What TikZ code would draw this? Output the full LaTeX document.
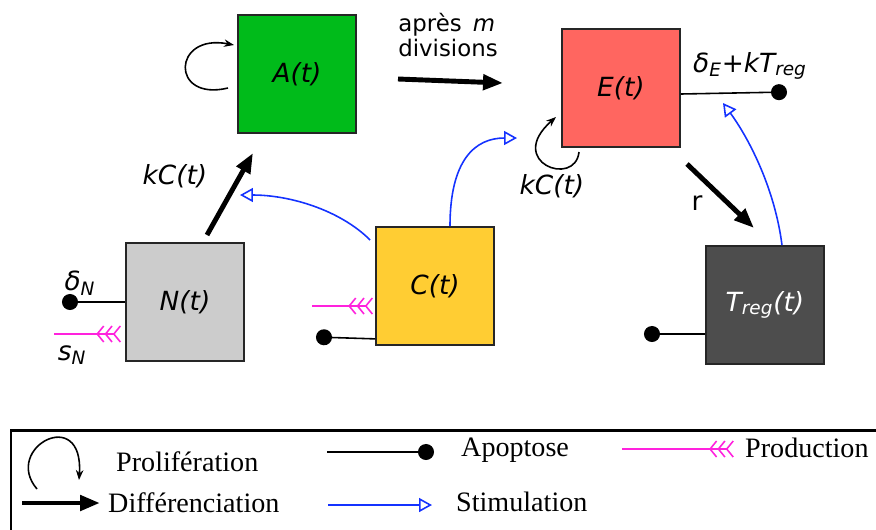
\documentclass[tikz,border=0pt]{standalone}
\usepackage{fontspec}
\setmainfont{Liberation Serif}
\setsansfont{DejaVu Sans}
\usetikzlibrary{arrows.meta}

\definecolor{agreen}{RGB}{0,187,26}
\definecolor{ered}{RGB}{255,102,96}
\definecolor{ngray}{RGB}{204,204,204}
\definecolor{cyellow}{RGB}{255,205,51}
\definecolor{tdark}{RGB}{77,77,77}
\definecolor{stimblue}{RGB}{20,50,255}
\definecolor{prodpink}{RGB}{255,34,221}

\begin{document}
\begin{tikzpicture}[x=0.02cm,y=-0.02cm,
  box/.style={draw=black!85,line width=1pt,minimum size=2.36cm,inner sep=0pt,font=\sffamily\itshape\fontsize{15}{18}\selectfont},
  lbl/.style={font=\sffamily\itshape\fontsize{15}{18}\selectfont},
  leg/.style={anchor=west,font=\fontsize{16}{19}\selectfont},
  diff/.style={line width=2.8pt,-{Triangle[length=0.4cm,width=0.3cm]}},
  stim/.style={draw=stimblue,line width=0.9pt,-{Triangle[open,fill=white,length=0.26cm,width=0.28cm]}},
  apop/.style={line width=0.9pt,-{Circle[length=0.32cm,width=0.32cm]}},
  prod/.style={draw=prodpink,line width=0.9pt,-{Straight Barb[reversed,length=0.13cm,width=0.32cm]Straight Barb[reversed,length=0.13cm,width=0.32cm]Straight Barb[reversed,length=0.13cm,width=0.32cm]}},
  prolif/.style={line width=0.9pt,-{Stealth[length=0.2cm]}}]

            \useasboundingbox (0,0) rectangle (876,529);

            % compartments
            \node[box, fill=agreen] (A) at (297,74) {A(t)};
            \node[box, fill=ered] (E) at (621,88) {E(t)};
            \node[box, fill=ngray] (N) at (185,302) {N(t)};
            \node[box, fill=cyellow] (C) at (435,286) {C(t)};
            \node[box, fill=tdark, text=white] (T) at (765,305) {T\textsubscript{reg}(t)};

            % free ends
            \coordinate (na) at (207,235);
            \coordinate (an) at (253,153);
            \coordinate (ae) at (398,79);
            \coordinate (ea) at (503,83);
            \coordinate (et) at (687,164);
            \coordinate (te) at (754,228);
            \coordinate (eapo) at (787,92);
            \coordinate (napo) at (62,302);
            \coordinate (capo) at (316,337);
            \coordinate (tapo) at (644,334);
            \coordinate (nprod) at (54,334);
            \coordinate (cprod) at (312,306);
            \coordinate (cstim) at (517,138);
            \coordinate (nstim) at (240,195);
            \coordinate (tstim) at (723,103);

            % labels
            \node[font=\sffamily\fontsize{13}{14.5}\selectfont, align=left] (apres) at (448,35) {après \,\textit{m}\\divisions};
            \node[lbl] (kca) at (175,176) {kC(t)};
            \node[lbl] (kce) at (552,186) {kC(t)};
            \node[font=\sffamily\fontsize{15}{18}\selectfont] (r) at (697,203) {r};
            \node[lbl] (dn) at (80,283) {δ\textsubscript{N}};
            \node[lbl] (sn) at (72,355) {s\textsubscript{N}};
            \node[lbl] (de) at (750,66) {δ\textsubscript{E}+kT\textsubscript{reg}};

            % differentiation
            \draw[diff] (na) to (an);
            \draw[diff] (ae) to (ea);
            \draw[diff] (et) to (te);

            % proliferation
            \draw[prolif] (228,88) .. controls (170,102) and (172,33) .. (234,45);
            \draw[prolif] (579,152) .. controls (575,188) and (505,162) .. (556,117);

            % apoptosis
            \draw[apop] ([yshift=-0.12cm]E.east) to (eapo);
            \draw[apop] (N.west) to (napo);
            \draw[apop] ([yshift=0.14cm]C.south west) to (capo);
            \draw[apop] ([yshift=-0.58cm]T.west) to (tapo);

            % production
            \draw[prod] (nprod) to ([xshift=-0.08cm,yshift=-0.64cm]N.west);
            \draw[prod] (cprod) to ([xshift=-0.04cm,yshift=-0.4cm]C.west);

            % stimulation
            \draw[stim] ([xshift=0.3cm]C.north) .. controls (450,160) and (475,138) .. (cstim);
            \draw[stim] ([xshift=-0.1cm,yshift=0.92cm]C.west) .. controls (340,210) and (290,195) .. (nstim);
            \draw[stim] ([xshift=0.34cm]T.north) .. controls (775,190) and (750,140) .. (tstim);

            % legend
            \draw[line width=1.7pt] (11,430) rectangle (900,560);
            \draw[prolif] (37,489) .. controls (2,448) and (84,404) .. (79,480);
            \node[leg] (lprolif) at (110,462) {Prolifération};
            \draw[diff] (22,503) to (100,503);
            \node[leg] (ldiff) at (102,503) {Différenciation};
            \draw[apop] (327,452) to (434,452);
            \node[leg] (lapop) at (455,450) {Apoptose};
            \draw[stim] (328,505) to (432,505);
            \node[leg] (lstim) at (450,502) {Stimulation};
            \draw[prod] (622,449) to (734,449);
            \node[leg] (lprod) at (739,448) {Production};

            ;
        \end{tikzpicture}
\end{document}
